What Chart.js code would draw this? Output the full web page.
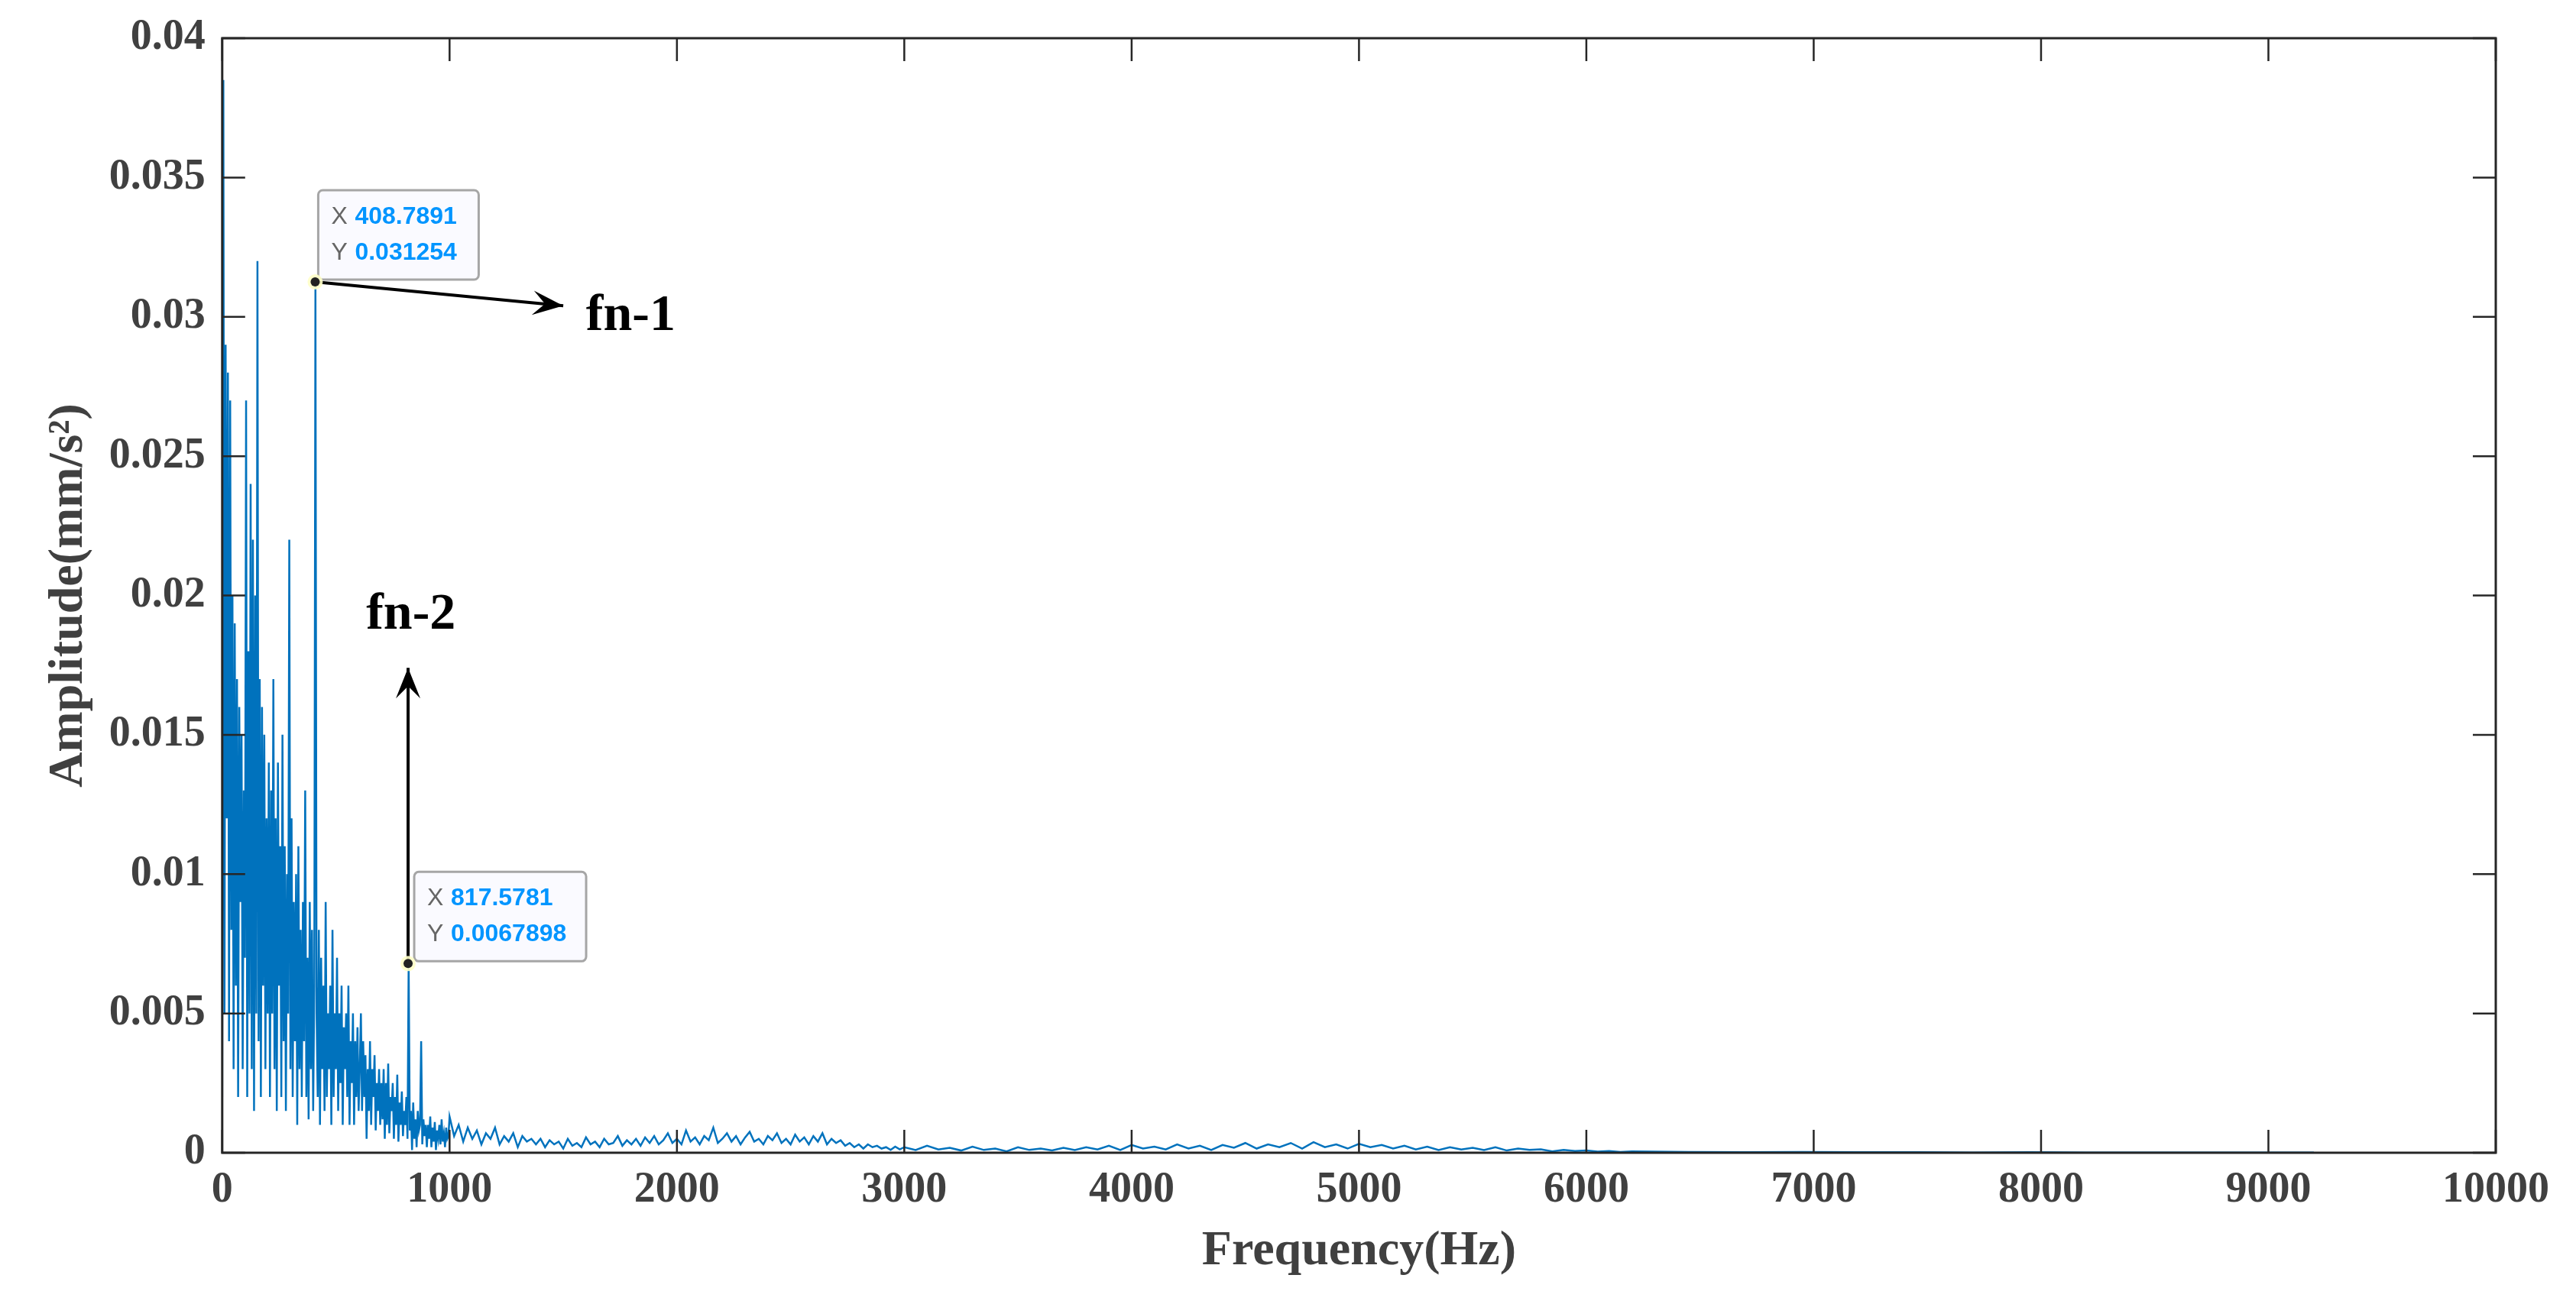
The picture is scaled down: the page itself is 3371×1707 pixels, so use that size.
<!DOCTYPE html>
<html><head><meta charset="utf-8">
<script src="https://cdn.jsdelivr.net/npm/chart.js@4/dist/chart.umd.min.js"></script>
<style>html,body{margin:0;background:#fff}#w{width:3371px;height:1707px}</style>
</head><body><div id="w"><canvas id="c"></canvas></div>
<script>
// amplitudes in units of 0.001 mm/s^2
const lowStart = 0, lowStep = 5;   // 0–1000 Hz
const lowVals = [
2,38.5,5,29,12,28,4,27,8,20,3,19,6,17,2,16,9,15,3,13,7,
27,2,18,5,24,3,22,1.5,20,5,32,4,17,2,16,6,15,3,12,5,
14,2,13,5,17,3,12,1.5,14,6,11,2,15,4,11,1.5,10,5,22,3,
12,2,9,4,10,1,11,3,8,2,9,4,13,2,7,1.2,9,3,8,1.5,
6,31.25,5,2,8,1,7,3,6,1.5,9,2,5,3,6,1,8,2,5,3,
7,1.5,5,2.5,6,1,4.5,3,5,2,6,1,4,2.5,5,1,4,2,4.5,1.5,
3,5,1.5,4,2,3.5,0.5,3,1.5,4,1,3,2,3.5,0.8,2.5,1.5,3,1,2.5,
1.2,3,0.5,2.5,1,3.2,0.7,2,1.5,2.5,0.5,2,1,2.8,0.4,1.8,1,2.2,0.6,1.5,
1,2,0.5,6.79,0.8,1.5,0.1,1.8,0.5,1.2,0.2,1.5,0.8,1,4,0.3,1.2,0.6,1,0.2,
1,0.5,1.3,0.2,0.9,0.4,1.1,0.1,0.8,0.5,1,0.3,1.2,0.4,0.7,0.2,0.9,0.5,0.6];
const midStart = 1000, midStep = 20; // 1000–3000 Hz
const midVals = [
1.3,0.6,1.0,0.4,0.9,0.5,0.8,0.3,0.7,0.5,0.9,0.3,0.6,0.4,0.7,0.2,0.6,0.4,0.5,0.3,
0.5,0.2,0.45,0.3,0.4,0.15,0.5,0.25,0.35,0.2,0.55,0.3,0.4,0.2,0.5,0.3,0.35,0.6,0.25,0.45,
0.3,0.5,0.25,0.55,0.35,0.6,0.3,0.45,0.7,0.35,0.5,0.3,0.8,0.4,0.55,0.3,0.6,0.45,0.9,0.35,
0.5,0.7,0.4,0.6,0.3,0.55,0.75,0.4,0.5,0.3,0.6,0.45,0.7,0.35,0.5,0.3,0.65,0.4,0.55,0.3,
0.6,0.4,0.7,0.3,0.5,0.35,0.45,0.25,0.35,0.2,0.3,0.15,0.3,0.2,0.25,0.15,0.2,0.1,0.22,0.12];
const highStart = 3000, highStep = 50; // 3000–6200 Hz
const highVals = [
0.2,0.1,0.25,0.12,0.18,0.08,0.22,0.1,0.15,0.05,0.2,0.1,0.15,0.08,0.18,0.1,0.2,0.12,0.25,0.1,
0.28,0.15,0.22,0.12,0.3,0.15,0.25,0.1,0.28,0.18,0.35,0.15,0.3,0.2,0.35,0.15,0.38,0.2,0.3,0.15,
0.32,0.2,0.28,0.15,0.25,0.12,0.22,0.1,0.2,0.12,0.18,0.1,0.2,0.08,0.15,0.1,0.12,0.05,0.1,0.06,
0.08,0.04,0.06,0.03];
const tailStart = 6200, tailStep = 250; // 6200–9200 Hz
const tailVals = [0.05,0.03,0.02,0.03,0.02,0.02,0.01,0.02,0.01,0.01,0.01,0.01,0.01];
const xTicks = [0,1000,2000,3000,4000,5000,6000,7000,8000,9000,10000];
const yTicks = [0,0.005,0.01,0.015,0.02,0.025,0.03,0.035,0.04];
const tips = [{x:408.7891,y:0.031254,label:'fn-1'},{x:817.5781,y:0.0067898,label:'fn-2'}];

function seg(start, step, vals){return vals.map((v,i)=>({x:start+i*step,y:v/1000}));}
const data = [].concat(seg(lowStart,lowStep,lowVals),seg(midStart,midStep,midVals),
  seg(highStart,highStep,highVals),seg(tailStart,tailStep,tailVals));

const deco = {id:'deco', afterDatasetsDraw(ch){
  const c=ch.ctx, xs=ch.scales.x, ys=ch.scales.y, a=ch.chartArea;
  c.save();
  c.strokeStyle='#262626'; c.lineWidth=3;
  c.strokeRect(a.left,a.top,a.right-a.left,a.bottom-a.top);
  c.lineWidth=2.5;
  const tl=30;
  xTicks.forEach(t=>{const p=xs.getPixelForValue(t);c.beginPath();c.moveTo(p,a.bottom);c.lineTo(p,a.bottom-tl);c.moveTo(p,a.top);c.lineTo(p,a.top+tl);c.stroke();});
  yTicks.forEach(t=>{const p=ys.getPixelForValue(t);c.beginPath();c.moveTo(a.left,p);c.lineTo(a.left+tl,p);c.moveTo(a.right,p);c.lineTo(a.right-tl,p);c.stroke();});
  function arrow(x0,y0,x1,y1){c.strokeStyle='#000';c.fillStyle='#000';c.lineWidth=4;c.beginPath();c.moveTo(x0,y0);c.lineTo(x1,y1);c.stroke();
    const ang=Math.atan2(y1-y0,x1-x0),L=40,W=16;c.beginPath();c.moveTo(x1,y1);
    c.lineTo(x1-L*Math.cos(ang)+W*Math.sin(ang),y1-L*Math.sin(ang)-W*Math.cos(ang));
    c.lineTo(x1-L*0.6*Math.cos(ang),y1-L*0.6*Math.sin(ang));
    c.lineTo(x1-L*Math.cos(ang)-W*Math.sin(ang),y1-L*Math.sin(ang)+W*Math.cos(ang));c.closePath();c.fill();}
  const p1={x:xs.getPixelForValue(tips[0].x),y:ys.getPixelForValue(tips[0].y)};
  const p2={x:xs.getPixelForValue(tips[1].x),y:ys.getPixelForValue(tips[1].y)};
  arrow(p1.x,p1.y,xs.getPixelForValue(1500),ys.getPixelForValue(0.0304));
  arrow(p2.x,p2.y,p2.x,ys.getPixelForValue(0.0174));
  c.font='bold 68px "Liberation Serif"';c.fillStyle='#000';c.textBaseline='middle';
  c.textAlign='left';c.fillText(tips[0].label,xs.getPixelForValue(1600),ys.getPixelForValue(0.0300));
  c.textAlign='center';c.fillText(tips[1].label,xs.getPixelForValue(830),ys.getPixelForValue(0.0193));
  function box(x,y,w,h,X,Y){c.fillStyle='rgba(250,250,255,0.97)';c.strokeStyle='#a6a6a6';c.lineWidth=3;
    c.beginPath();c.roundRect(x,y,w,h,6);c.fill();c.stroke();
    c.textAlign='left';c.textBaseline='middle';
    c.font='32px "Liberation Sans"';c.fillStyle='#666';c.fillText('X',x+17,y+h*0.3);c.fillText('Y',x+17,y+h*0.7);
    c.font='bold 32px "Liberation Sans"';c.fillStyle='#0095ff';c.fillText(X,x+48,y+h*0.3);c.fillText(Y,x+48,y+h*0.7);}
  box(p1.x+4,p1.y-120,210,117,tips[0].x.toFixed(4),String(tips[0].y));
  box(p2.x+8,p2.y-120,225,117,tips[1].x.toFixed(4),String(tips[1].y));
  [p1,p2].forEach(p=>{c.fillStyle='rgba(255,255,200,0.9)';c.beginPath();c.arc(p.x,p.y,10,0,7);c.fill();c.fillStyle='#222';c.beginPath();c.arc(p.x,p.y,6,0,7);c.fill();});
  c.restore();
}};

new Chart(document.getElementById('c'),{
  type:'line',
  data:{datasets:[{data,borderColor:'#0072bd',borderWidth:2.5,pointRadius:0,tension:0}]},
  options:{responsive:true,maintainAspectRatio:false,animation:false,
    layout:{padding:{left:52,right:105,top:50,bottom:30}},
    plugins:{legend:{display:false},tooltip:{enabled:false}},
    scales:{
      x:{type:'linear',min:0,max:10000,afterBuildTicks:s=>{s.ticks=xTicks.map(v=>({value:v}));},
        grid:{display:false},border:{display:false},
        ticks:{color:'#404040',font:{family:'Liberation Serif',weight:'bold',size:56},maxRotation:0,padding:8,callback:v=>String(v)},
        title:{display:true,text:'Frequency(Hz)',color:'#404040',font:{family:'Liberation Serif',weight:'bold',size:64},padding:0}},
      y:{min:0,max:0.04,afterBuildTicks:s=>{s.ticks=yTicks.map(v=>({value:v}));},
        grid:{display:false},border:{display:false},
        ticks:{color:'#404040',font:{family:'Liberation Serif',weight:'bold',size:56},padding:14,callback:v=>String(v)},
        title:{display:true,text:'Amplitude(mm/s²)',color:'#404040',font:{family:'Liberation Serif',weight:'bold',size:64},padding:0}}
    }},
  plugins:[deco]
});
</script></body></html>
